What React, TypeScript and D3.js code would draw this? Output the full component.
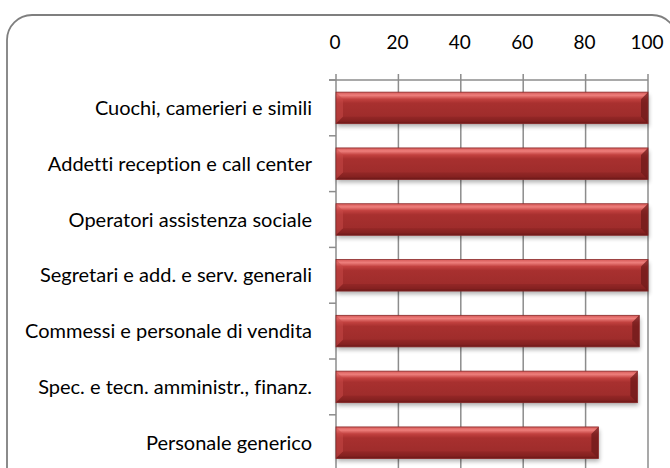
import React from "react";
import * as d3 from "d3";

const categories = [
  "Cuochi, camerieri e simili",
  "Addetti reception e call center",
  "Operatori assistenza sociale",
  "Segretari e add. e serv. generali",
  "Commessi e personale di vendita",
  "Spec. e tecn. amministr., finanz.",
  "Personale generico",
];
const values = [100, 100, 100, 100, 97.2, 96.6, 84.1];
const ticks = [0, 20, 40, 60, 80, 100];

const W = 670;
const H = 468;
const FONT = "Lato, 'Open Sans', sans-serif";

export default function App() {
  const x = d3.scaleLinear().domain([0, 100]).range([336, 648]);
  const y = d3
    .scaleBand<string>()
    .domain(categories)
    .range([80, 80 + 7 * 55.8])
    .paddingInner(0.435)
    .paddingOuter(0.2175);
  const bw = y.bandwidth();
  const grid = "#8c8c8c";
  const boundaries = d3.range(categories.length + 1).map((i) => 80 + i * y.step());

  return (
    <svg
      width={W}
      height={H}
      style={{ position: "absolute", left: 0, top: 0, background: "#fff", fontVariantLigatures: "none" }}
    >
      <defs>
        <linearGradient id="barGrad" x1="0" y1="0" x2="0" y2="1">
          <stop offset="0" stopColor="#d65a58" />
          <stop offset="0.1" stopColor="#ee7f7c" />
          <stop offset="0.22" stopColor="#c2413f" />
          <stop offset="0.35" stopColor="#a8302f" />
          <stop offset="0.8" stopColor="#9e2c2b" />
          <stop offset="0.92" stopColor="#8a2423" />
          <stop offset="1" stopColor="#5e1515" />
        </linearGradient>
        <filter id="shadow" x="-5%" y="-30%" width="110%" height="180%">
          <feGaussianBlur stdDeviation="2" />
        </filter>
      </defs>

      {/* frame */}
      <rect
        x={7}
        y={15}
        width={670}
        height={480}
        rx={25}
        ry={25}
        fill="#fff"
        stroke="#7f7f7f"
        strokeWidth={1.8}
      />

      {/* gridlines */}
      {ticks.map((t) => (
        <line
          key={"g" + t}
          x1={x(t)}
          x2={x(t)}
          y1={74}
          y2={H}
          stroke={grid}
          strokeWidth={1.5}
        />
      ))}
      {/* top axis line */}
      <line x1={329} x2={x(100)} y1={80} y2={80} stroke={grid} strokeWidth={1.5} />
      {/* category ticks */}
      {boundaries.map((b, i) => (
        <line
          key={"c" + i}
          x1={329}
          x2={336}
          y1={b}
          y2={b}
          stroke={grid}
          strokeWidth={1.5}
        />
      ))}

      {/* tick labels */}
      {ticks.map((t) => (
        <text
          key={"t" + t}
          x={x(t) - 1}
          y={49}
          textAnchor="middle"
          fontFamily={FONT}
          fontSize={19}
          fill="#000"
        >
          {t}
        </text>
      ))}

      {/* bars */}
      {categories.map((c, i) => {
        const y0 = y(c)!;
        const x0 = x(0);
        const x1 = x(values[i]);
        const bev = 7;
        return (
          <g key={c}>
            <rect
              x={x0 + 1}
              y={y0 + 3}
              width={x1 - x0}
              height={bw}
              fill="#000"
              opacity={0.3}
              filter="url(#shadow)"
            />
            <rect x={x0} y={y0} width={x1 - x0} height={bw} fill="url(#barGrad)" />
            {/* right bevel */}
            <polygon
              points={`${x1 - bev},${y0 + bev} ${x1},${y0} ${x1},${y0 + bw} ${x1 - bev},${y0 + bw - bev}`}
              fill="#6e1a1a"
              opacity={0.75}
            />
            {/* left bevel */}
            <polygon
              points={`${x0},${y0} ${x0 + bev},${y0 + bev} ${x0 + bev},${y0 + bw - bev} ${x0},${y0 + bw}`}
              fill="#c84a48"
              opacity={0.5}
            />
            {/* bottom bevel */}
            <polygon
              points={`${x0 + bev},${y0 + bw - bev} ${x1 - bev},${y0 + bw - bev} ${x1},${y0 + bw} ${x0},${y0 + bw}`}
              fill="#7a1e1e"
              opacity={0.35}
            />
            <rect x={x0} y={y0} width={x1 - x0} height={bw} fill="none" stroke="#8a2a2a" strokeWidth={0.8} />
          </g>
        );
      })}

      {/* category labels */}
      {categories.map((c) => (
        <text
          key={"l" + c}
          x={312}
          y={y(c)! + bw / 2}
          dy="0.35em"
          textAnchor="end"
          fontFamily={FONT}
          fontSize={20}
          fill="#000"
          style={{ fontVariantLigatures: "none" }}
        >
          {c}
        </text>
      ))}
    </svg>
  );
}
